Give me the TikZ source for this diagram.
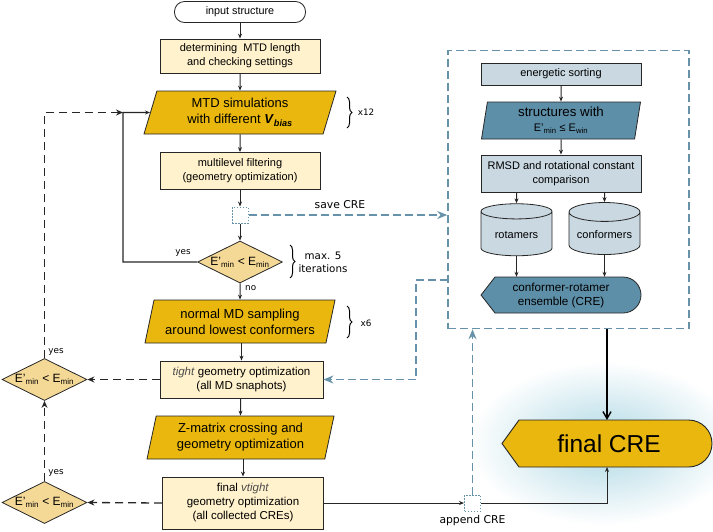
\documentclass[tikz,border=0pt]{standalone}
\usepackage{fontspec}
\setmainfont{Liberation Sans}
\newfontfamily\lblfont{DejaVu Sans}
\usetikzlibrary{arrows.meta,positioning,shapes.geometric,decorations.pathreplacing,backgrounds}

\definecolor{gold}{HTML}{E9B70E}
\definecolor{cream}{HTML}{FFF2CC}
\definecolor{sand}{HTML}{F4D896}
\definecolor{paleblue}{HTML}{C9D8E1}
\definecolor{deepblue}{HTML}{5E8FA8}
\definecolor{dashblue}{HTML}{6693A9}
\definecolor{glow}{HTML}{AED8E4}
\definecolor{edge}{HTML}{262626}

\begin{document}
\begin{tikzpicture}[
  x=1pt, y=-1pt,
  base/.style={draw=edge,line width=0.8pt,align=center,inner sep=2pt},
  term/.style={base,rectangle,rounded corners=10pt,fill=white,minimum width=131pt,minimum height=21pt,font=\fontsize{10.8}{13}\selectfont},
  proc/.style={base,rectangle,fill=cream,minimum width=160pt,font=\fontsize{11}{14}\selectfont},
  io/.style={base,trapezium,trapezium stretches body,fill=gold,minimum height=43pt,font=\fontsize{13}{16}\selectfont},
  cond/.style={base,diamond,aspect=2,inner sep=-5pt,fill=sand,minimum width=85pt,minimum height=42pt,font=\fontsize{12}{13}\selectfont},
  sortbox/.style={base,rectangle,fill=paleblue,minimum width=160pt,font=\fontsize{11}{14}\selectfont},
  store/.style={base,cylinder,shape border rotate=90,aspect=0.32,fill=paleblue,minimum width=71pt,minimum height=52pt,font=\fontsize{11}{13}\selectfont},
  port/.style={draw=dashblue,line width=1pt,dash pattern=on 1.5pt off 1.5pt,fill=white,minimum size=16pt,inner sep=0pt},
  group/.style={draw=dashblue,line width=1.5pt,dash pattern=on 8pt off 4pt,minimum width=241pt,minimum height=278pt},
  note/.style={font=\lblfont\fontsize{8.8}{11}\selectfont,align=center,inner sep=1pt},
  tag/.style={font=\lblfont\fontsize{10.8}{13}\selectfont,align=center,inner sep=1pt},
  arrow/.style={-{Stealth[length=5pt,width=4pt]},line width=1pt,draw=edge},
  back/.style={-{Stealth[length=7pt,width=6pt]},line width=1.3pt,draw=edge,dash pattern=on 8pt off 5pt},
  feed/.style={-{Stealth[length=10pt,width=8pt]},line width=1.5pt,draw=dashblue,dash pattern=on 8pt off 4pt},
  bigarrow/.style={-{Straight Barb[length=7pt,width=8pt]},line width=1.4pt,draw=black},
  brc/.style={decorate,decoration={brace,amplitude=5pt},line width=1pt}
]
\useasboundingbox (0,0) rectangle (713,531);

% main column
\node[term] (input) at (240,12) {input structure};
\node[proc, minimum height=34pt] (determ) at (240,56) {determining\ \ MTD length\\and checking settings};
\node[io, trapezium left angle=68, trapezium right angle=112, minimum width=192pt] (mtd) at (240,112.5)
  {MTD simulations\\with different \textbf{\textit{V}\textsubscript{\textit{bias}}}};
\node[proc, minimum height=37pt] (filter) at (240,171) {multilevel filtering\\(geometry optimization)};
\node[port] (save) at (240,215) {};
\node[cond] (chk) at (240,262) {E'\textsubscript{min} < E\textsubscript{min}};
\node[io, trapezium left angle=73, trapezium right angle=107, minimum width=190pt] (normal) at (240,321.5)
  {normal MD sampling\\around lowest conformers};
\node[proc, minimum height=37pt, minimum width=163pt, font=\fontsize{11.5}{14.5}\selectfont] (tight) at (241.5,379.5)
  {\textcolor{black!70}{\textit{tight}} geometry optimization\\(all MD snaphots)};
\node[io, trapezium left angle=74, trapezium right angle=106, minimum width=187pt] (zmat) at (240.5,437.5)
  {Z-matrix crossing and\\geometry optimization};
\node[proc, minimum height=52pt, minimum width=161pt, font=\fontsize{11.5}{14}\selectfont] (final) at (243,503)
  {final \textcolor{black!70}{\textit{vtight}}\\geometry optimization\\(all collected CREs)};

% left checks
\node[cond] (dA) at (44.5,379.5) {E'\textsubscript{min} < E\textsubscript{min}};
\node[cond] (dB) at (44.5,502.5) {E'\textsubscript{min} < E\textsubscript{min}};
\coordinate (join) at (123,112.5);

% CRE block
\node[group] (crebox) at (568.5,189.5) {};
\node[sortbox, minimum height=22pt] (sort) at (561,74) {energetic sorting};
\node[base, trapezium, trapezium left angle=79, trapezium right angle=101, trapezium stretches body,
  fill=deepblue, minimum width=159pt, minimum height=37pt, font=\fontsize{13.3}{15}\selectfont] (struct) at (561,120.5)
  {structures with\\{\fontsize{11}{12}\selectfont E'\textsubscript{min} ≤ E\textsubscript{win}}};
\node[sortbox, minimum height=37pt] (rmsd) at (561,173.5) {RMSD and rotational constant\\comparison};
\node[store] (rot) at (516.5,235) {rotamers};
\node[store] (conf) at (604.5,235) {conformers};
\node[align=center, minimum width=160pt, minimum height=36pt, font=\fontsize{11.7}{14}\selectfont] (ens) at (561,295)
  {conformer-rotamer\\ensemble (CRE)};
\node[minimum width=210pt, minimum height=47pt, font=\fontsize{24.5}{28}\selectfont] (fcre) at (609,443.5) {final CRE};
\node[port] (app) at (472.5,503) {};

\begin{scope}[on background layer]
  \shade[inner color=glow, outer color=white] (604,443.5) ellipse [x radius=135, y radius=82];
  \draw[draw=edge, line width=0.8pt, fill=deepblue] (481,295) -- (495,277) -- (623,277)
    arc[start angle=-90, end angle=90, radius=18] -- (495,313) -- cycle;
  \draw[draw=edge, line width=0.9pt, fill=gold] (502,443.5) -- (519,420) -- (688.5,420)
    arc[start angle=-90, end angle=90, radius=23.5] -- (519,467) -- cycle;
\end{scope}

% braces and labels
\draw[brc] (347,97) -- (347,128);
\node[note] (n12) at (366,112) {x12};
\draw[brc] (347,306) -- (347,338);
\node[note] (n6) at (366,323) {x6};
\draw[brc] (290,245) -- (290,278);
\node[tag, font=\lblfont\fontsize{10.3}{13}\selectfont] (nmax) at (323,262) {max. 5\\iterations};
\node[tag] (savelbl) at (340,205) {save CRE};
\node[tag] (applbl) at (472.5,521) {append CRE};
\node[note] (yes1) at (183,253) {yes};
\node[note, anchor=west] (no1) at (244,288) {no};
\node[note] (yes2) at (56,352) {yes};
\node[note] (yes3) at (56,473) {yes};

% flow
\draw[arrow] (input) -- (determ);
\draw[arrow] (determ) -- (mtd);
\draw[arrow] (mtd) -- (filter);
\draw[arrow] (filter) -- (save);
\draw[arrow] (save) -- (chk);
\draw[arrow] (chk) -- (normal);
\draw[arrow] (normal.south -| tight.north) -- (tight);
\draw[arrow] (tight.south -| zmat.north) -- (zmat);
\draw[arrow] (final.north |- zmat.south) -- (final);
\draw[arrow, line width=1.3pt] (chk.west) -| (join) -- (mtd.west);

\draw[back] (dA.north) |- (join);
\draw[back] (tight.west) -- (dA.east);
\draw[back] (final.west) -- (dB.east);
\draw[back] (dB.north) -- (dA.south);

\draw[arrow] (sort) -- (struct);
\draw[arrow] (struct) -- (rmsd);
\draw[arrow] (rmsd.south -| rot) -- (rot);
\draw[arrow] (rmsd.south -| conf) -- (conf);
\draw[arrow] (rot) -- (rot |- ens.north);
\draw[arrow] (conf) -- (conf |- ens.north);

\draw[feed] (save.east) -- (save.east -| crebox.west);
\coordinate (tapR) at (448,280);
\coordinate (tapL) at (416,280);
\draw[feed] (tapR) -- (tapL) |- (tight.east);
\draw[feed] (app.north) -- (app.north |- crebox.south);
\draw[arrow] (final.east) -- (app.west);
\draw[arrow] (app.east) -| (607,467);
\draw[bigarrow] (crebox.south -| 607,0) -- (607,420);
\end{tikzpicture}
\end{document}
